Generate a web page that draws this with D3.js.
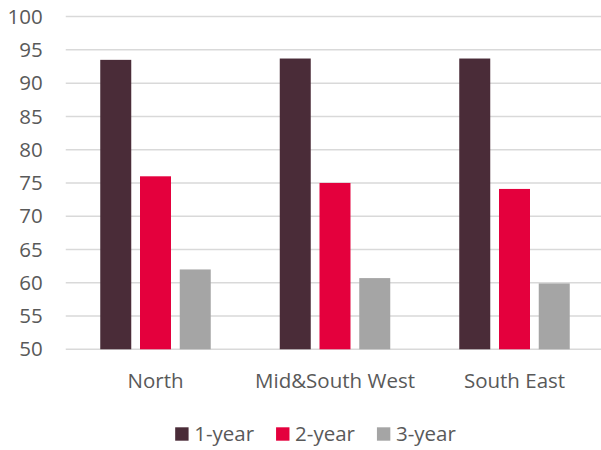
<!DOCTYPE html>
<html>
<head>
<meta charset="utf-8">
<script src="https://cdn.jsdelivr.net/npm/d3@7"></script>
<style>
  html, body { margin: 0; padding: 0; background: #fff; }
  svg { display: block; }
  text { font-family: "Open Sans", "Noto Sans", sans-serif; fill: #595959; }
</style>
</head>
<body>
<svg id="chart" width="601" height="450"></svg>
<script>
const categories = ["North", "Mid&South West", "South East"];
const seriesNames = ["1-year", "2-year", "3-year"];
const oneYear = [93.5, 93.7, 93.7];
const twoYear = [76.0, 75.0, 74.1];
const threeYear = [62.0, 60.7, 59.9];
const yTicks = [50, 55, 60, 65, 70, 75, 80, 85, 90, 95, 100];
const colors = ["#4a2c38", "#e4003d", "#a5a5a5"];

const seriesValues = [oneYear, twoYear, threeYear];

const svg = d3.select("#chart");
const W = 601, H = 450;
const plot = { left: 65.75, right: 604.25, top: 16.6, bottom: 349.3 };

const x = d3.scaleBand().domain(categories).range([plot.left, plot.right]).paddingInner(0).paddingOuter(0);
const bw = x.bandwidth();
const inner = d3.scaleBand().domain(seriesNames)
  .range([(bw - 110.5) / 2, (bw + 110.5) / 2]).paddingInner(0.22).paddingOuter(0);
const y = d3.scaleLinear().domain([50, 100]).range([plot.bottom, plot.top]);

// gridlines
svg.append("g").selectAll("line").data(yTicks).join("line")
  .attr("x1", plot.left).attr("x2", W)
  .attr("y1", d => y(d)).attr("y2", d => y(d))
  .attr("stroke", "#d9d9d9").attr("stroke-width", 1.5);

// y tick labels
svg.append("g").selectAll("text").data(yTicks).join("text")
  .attr("x", 42.7).attr("y", d => y(d)).attr("dy", "0.35em")
  .attr("text-anchor", "end").attr("font-size", 20.5)
  .text(d => d);

// bars
const groups = svg.append("g").selectAll("g").data(categories).join("g")
  .attr("transform", d => `translate(${x(d)},0)`);
groups.selectAll("rect")
  .data((c, ci) => seriesNames.map((s, si) => ({ s, si, v: seriesValues[si][ci] })))
  .join("rect")
  .attr("x", d => inner(d.s))
  .attr("width", inner.bandwidth())
  .attr("y", d => y(d.v))
  .attr("height", d => y(50) - y(d.v))
  .attr("fill", d => colors[d.si]);

// category labels
svg.append("g").selectAll("text").data(categories).join("text")
  .attr("x", d => x(d) + bw / 2).attr("y", 388)
  .attr("text-anchor", "middle").attr("font-size", 20.5)
  .text(d => d);

// legend
const legend = svg.append("g");
const items = legend.selectAll("g").data(seriesNames).join("g");
items.append("rect").attr("width", 13.4).attr("height", 13.4).attr("y", 427.3)
  .attr("fill", (d, i) => colors[i]);
items.append("text").attr("x", 19).attr("y", 441).attr("font-size", 20.5).text(d => d);
let cx = 0;
const widths = [];
items.each(function () {
  widths.push(19 + this.querySelector("text").getComputedTextLength());
});
const gap = 22;
const total = d3.sum(widths) + gap * (widths.length - 1);
let start = 315.5 - total / 2;
items.attr("transform", (d, i) => {
  const t = `translate(${start},0)`;
  start += widths[i] + gap;
  return t;
});
</script>
</body>
</html>
